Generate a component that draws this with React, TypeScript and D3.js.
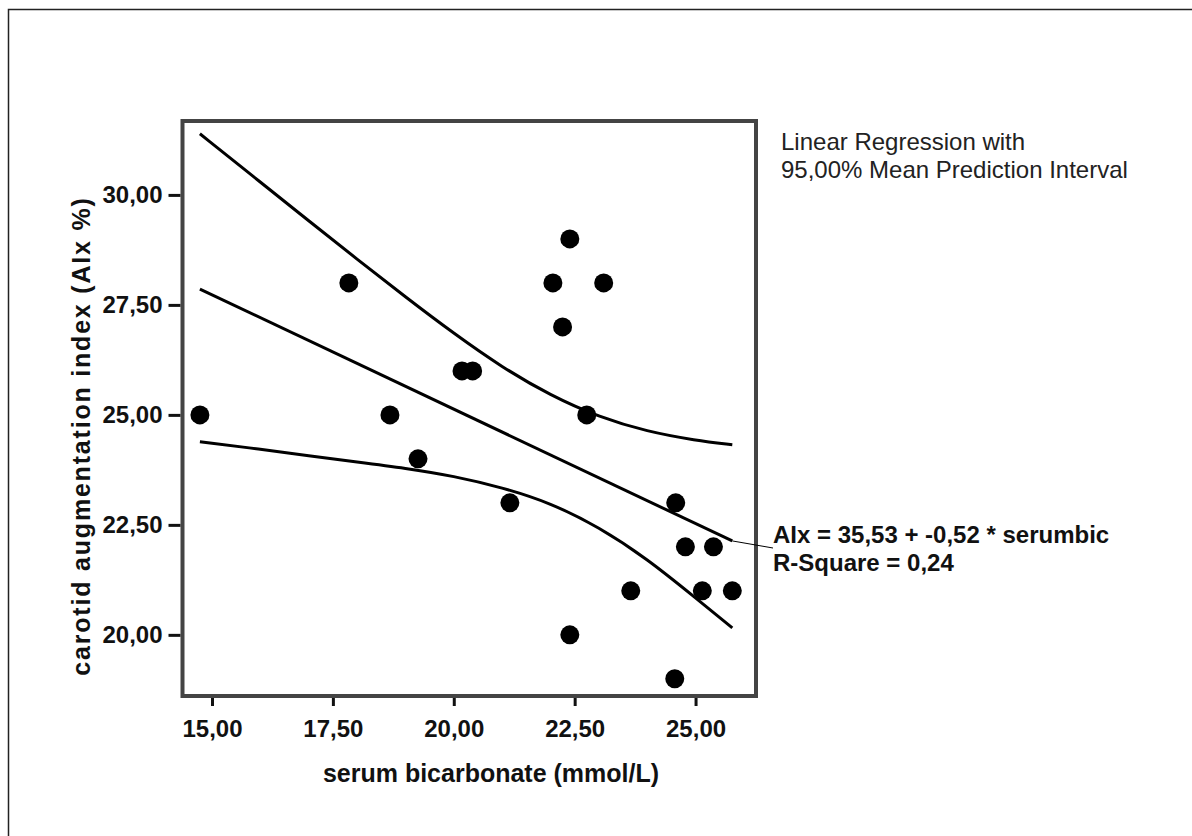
import React, { useRef, useLayoutEffect } from 'react'
import * as d3 from "d3";

// serum bicarbonate (mmol/L) vs carotid AIx (%)
const bicarb = [14.75, 17.83, 18.68, 19.26, 20.17, 20.39, 21.16, 22.05, 22.40, 22.25,
  23.10, 22.75, 22.40, 23.66, 24.59, 24.79, 25.37, 25.14, 25.76, 24.57];
const aix = [25, 28, 25, 24, 26, 26, 23, 28, 29, 27,
  28, 25, 20, 21, 23, 22, 22, 21, 21, 19];

// regression coefficients (from the chart annotation)
const intercept = 35.53;
const slope = -0.52;
const rSquare = 0.24;

// 95% mean prediction interval
const bandX = [14.75, 16, 17, 18, 19, 20, 21, 22, 23, 24, 25, 25.76];
const bandUpper = [31.39, 30.29, 29.41, 28.54, 27.68, 26.85, 26.08, 25.44, 24.95, 24.62, 24.42, 24.32];
const bandLower = [24.39, 24.22, 24.07, 23.93, 23.79, 23.61, 23.35, 23.00, 22.45, 21.73, 20.84, 20.16];

const xTicks = [15, 17.5, 20, 22.5, 25];
const yTicks = [20, 22.5, 25, 27.5, 30];

const legendLines = ["Linear Regression with", "95,00% Mean Prediction Interval"];

// comma decimals, plain hyphen for negatives
const fmt = (v: number) => d3.format(".2f")(v).replace(".", ",").replace("\u2212", "-");

const ScatterChart = () => {
  var full_width = 1192;
  var full_height = 836;
  var box = { left: 182.5, right: 756, top: 121, bottom: 696 };
  var font = "'Liberation Sans', Arial, sans-serif";

  var x = d3.scaleLinear()
    .domain([14.39, 26.25])
    .range([box.left, box.right]);
  var y = d3.scaleLinear()
    .domain([18.61, 31.68])
    .range([box.bottom, box.top]);

  var xAxis = d3.axisBottom(x).tickValues(xTicks).tickFormat((d: any) => fmt(d)).tickSize(8).tickPadding(14);
  var yAxis = d3.axisLeft(y).tickValues(yTicks).tickFormat((d: any) => fmt(d)).tickSize(12).tickPadding(6);

  const xAxisEl = useRef<SVGGElement>(null);
  const yAxisEl = useRef<SVGGElement>(null);

  useLayoutEffect(() => {
    [[xAxisEl, xAxis], [yAxisEl, yAxis]].forEach(([el, ax]: any) => {
      if (!el.current) return;
      const g = d3.select(el.current);
      g.call(ax);
      g.select(".domain").remove();
      g.selectAll(".tick line").attr("stroke", "#111").attr("stroke-width", 3);
      g.selectAll(".tick text")
        .attr("fill", "#111")
        .attr("font-family", font)
        .attr("font-weight", "bold")
        .attr("font-size", 24);
    });
  }, []);

  const fitX = [d3.min(bicarb)!, d3.max(bicarb)!];
  const line = d3.line<number[]>()
    .x(d => x(d[0]))
    .y(d => y(d[1]));
  const band = d3.line<number[]>()
    .x(d => x(d[0]))
    .y(d => y(d[1]))
    .curve(d3.curveBasis);

  const fitPts = fitX.map(v => [v, intercept + slope * v]);
  const upperPts = bandX.map((v, i) => [v, bandUpper[i]]);
  const lowerPts = bandX.map((v, i) => [v, bandLower[i]]);
  const fitEnd = fitPts[1];

  const eqText = "AIx = " + fmt(intercept) + " + " + fmt(slope) + " * serumbic";
  const rText = "R-Square = " + fmt(rSquare);

  return (
    <svg width={full_width} height={full_height}
      style={{ position: "absolute", left: 0, top: 0, background: "#fff" }}>
      {/* outer frame (only top and left edges visible) */}
      <path d="M8.5,836 V9.5 H1192" fill="none" stroke="#222" strokeWidth={1.5} />

      <g className='chart_data'>
        <path d={band(upperPts)!} fill="none" stroke="#000" strokeWidth={3} />
        <path d={band(lowerPts)!} fill="none" stroke="#000" strokeWidth={3} />
        <path d={line(fitPts)!} fill="none" stroke="#000" strokeWidth={3} />
        {bicarb.map((d, i) => (
          <circle key={i} cx={x(d)} cy={y(aix[i])} r={9.5} fill="#000" />
        ))}
      </g>

      <rect x={box.left} y={box.top} width={box.right - box.left} height={box.bottom - box.top}
        fill="none" stroke="#444" strokeWidth={4} />

      <g className='xAxis' ref={xAxisEl} transform={`translate(0, ${box.bottom + 2})`} />
      <g className='yAxis' ref={yAxisEl} transform={`translate(${box.left - 2}, 0)`} />

      <text x={491} y={782} textAnchor="middle"
        fontFamily={font} fontWeight="bold" fontSize={25} fill="#111">
        serum bicarbonate (mmol/L)
      </text>
      <text transform={`translate(90, ${436}) rotate(-90)`} textAnchor="middle"
        fontFamily={font} fontWeight="bold" fontSize={25} letterSpacing={1.8} fill="#111">
        carotid augmentation index (AIx %)
      </text>

      {/* fit annotation */}
      <line x1={x(fitEnd[0])} y1={y(fitEnd[1])} x2={773} y2={548} stroke="#000" strokeWidth={1} />
      <g fontFamily={font} fontWeight="bold" fontSize={24} fill="#111">
        <text x={773} y={543}>{eqText}</text>
        <text x={773} y={571}>{rText}</text>
      </g>

      <g fontFamily={font} fontSize={24} fill="#222">
        {legendLines.map((t, i) => (
          <text key={i} x={781} y={150 + i * 28}>{t}</text>
        ))}
      </g>
    </svg>
  )
}

export default function App() {
  return <ScatterChart />;
}
